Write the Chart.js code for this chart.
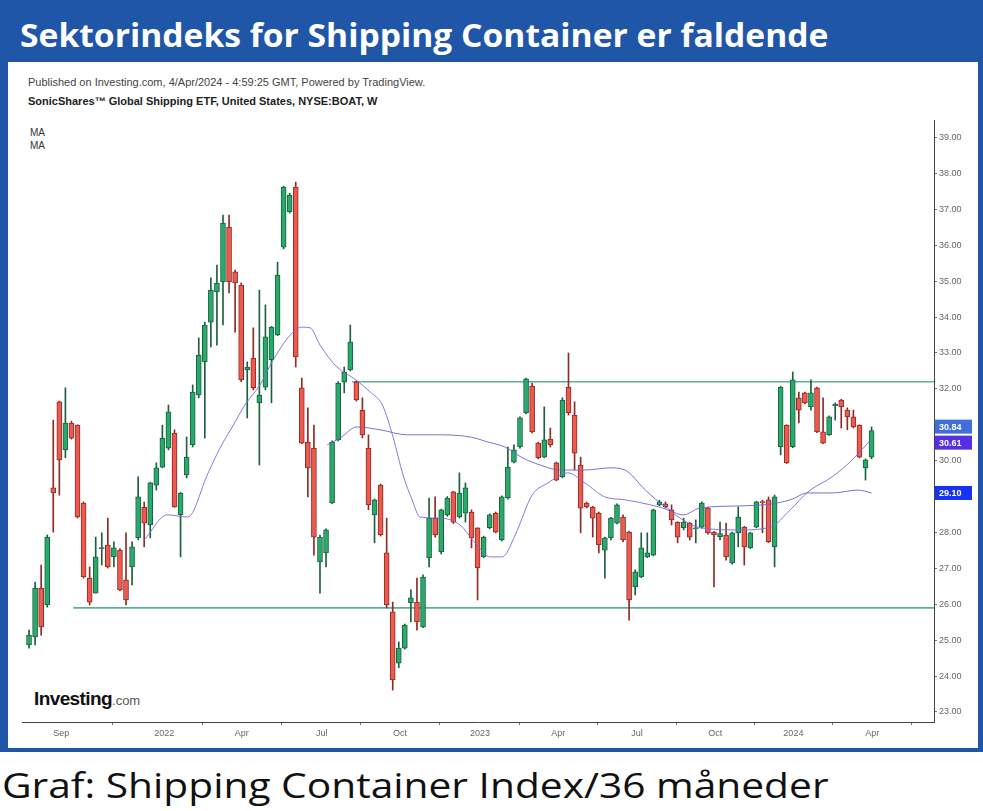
<!DOCTYPE html>
<html lang="da">
<head>
<meta charset="utf-8">
<title>Sektorindeks for Shipping Container er faldende</title>
<script src="https://cdn.jsdelivr.net/npm/chart.js@4.4.1/dist/chart.umd.min.js"></script>
<style>
  html, body { margin: 0; padding: 0; background: #fff; }
  body { width: 983px; height: 811px; position: relative; overflow: hidden; font-family: "Liberation Sans", Arial, sans-serif; }
  #frame { position: absolute; left: 0; top: 0; width: 983px; height: 752px; background: #1f56a7; }
  #title { position: absolute; left: 20px; top: 15px; color: #fff; font-family: "Open Sans", sans-serif; font-weight: 700; font-size: 33px; line-height: 40px; white-space: nowrap; transform-origin: left top; }
  #panel { position: absolute; left: 8px; top: 62px; width: 970px; height: 686px; background: #fff; }
  .info { position: absolute; left: 28px; font-size: 11px; white-space: nowrap; }
  #pub { top: 76px; color: #444; }
  #sym { top: 95px; color: #222; font-weight: bold; }
  .ma { position: absolute; left: 30px; font-size: 10px; color: #333; }
  #logo { position: absolute; left: 34px; top: 688px; white-space: nowrap; }
  #logo b { font-size: 19px; letter-spacing: -0.6px; color: #111; }
  #logo span { font-size: 13px; color: #555; }
  #chart { position: absolute; left: 0; top: 0; }
  #caption { position: absolute; left: 2px; top: 762px; font-family: "Open Sans", sans-serif; font-size: 34px; line-height: 46px; color: #111; white-space: nowrap; transform-origin: left top; }
</style>
</head>
<body>
<div id="frame"></div>
<div id="title">Sektorindeks for Shipping Container er faldende</div>
<div id="panel"></div>
<div class="info" id="pub">Published on Investing.com, 4/Apr/2024 - 4:59:25 GMT, Powered by TradingView.</div>
<div class="info" id="sym">SonicShares™ Global Shipping ETF, United States, NYSE:BOAT, W</div>
<div class="ma" style="top:127px">MA</div>
<div class="ma" style="top:140px">MA</div>
<div id="logo"><b>Investing</b><span>.com</span></div>
<canvas id="chart" width="983" height="752"></canvas>
<div id="caption">Graf: Shipping Container Index/36 måneder</div>

<script>
// Ugentlige candles (BOAT)
const opens = [
  24.87, 25.09, 26.45, 25.98, 29.24, 31.64, 30.30, 31.05, 30.99, 28.82,
  26.73, 26.31, 27.55, 27.65, 27.32, 27.51, 26.68, 27.04, 27.85, 28.71,
  28.21, 29.32, 29.82, 30.35, 30.77, 28.49, 29.60, 30.44, 31.83, 32.75,
  33.86, 34.70, 34.98, 36.51, 35.26, 34.89, 32.53, 32.86, 31.61, 32.05,
  32.81, 33.50, 35.95, 36.93, 37.62, 32.03, 30.52, 30.35, 27.18, 27.43,
  28.82, 30.58, 32.19, 32.53, 32.19, 31.41, 30.35, 28.49, 29.32, 27.43,
  25.79, 24.36, 24.78, 26.04, 26.06, 25.37, 27.29, 28.40, 27.46, 28.49,
  29.13, 28.43, 28.54, 28.57, 28.13, 27.32, 28.13, 28.54, 27.79, 28.96,
  29.96, 30.38, 31.33, 32.08, 30.49, 30.10, 30.60, 29.94, 29.55, 32.05,
  31.27, 29.88, 28.82, 28.71, 28.54, 27.51, 27.85, 28.26, 28.43, 28.01,
  26.48, 26.76, 27.32, 27.37, 28.77, 28.80, 28.63, 28.29, 28.13, 28.26,
  28.10, 28.15, 28.68, 28.01, 27.88, 27.93, 27.15, 27.99, 28.15, 27.57,
  28.15, 28.85, 28.91, 27.60, 30.38, 30.99, 30.38, 31.75, 31.89, 31.50,
  32.03, 30.80, 30.72, 31.53, 31.69, 31.41, 31.22, 30.99, 29.80, 30.10
];
const highs = [
  25.28, 26.62, 27.09, 27.93, 31.13, 31.66, 32.03, 31.10, 31.00, 28.85,
  27.04, 27.87, 27.99, 28.40, 27.74, 27.55, 27.99, 27.74, 29.55, 28.85,
  29.40, 29.94, 30.99, 31.55, 30.86, 29.12, 30.66, 32.11, 33.42, 33.86,
  35.09, 35.45, 36.84, 36.84, 35.31, 34.95, 32.75, 33.70, 34.75, 34.34,
  33.74, 35.53, 37.65, 37.45, 37.76, 32.30, 31.47, 30.99, 27.93, 28.10,
  30.55, 32.20, 32.61, 33.78, 32.22, 31.75, 30.72, 28.93, 29.35, 28.40,
  26.06, 24.95, 25.45, 26.40, 26.73, 26.82, 28.96, 28.99, 28.65, 29.00,
  29.15, 29.66, 29.38, 28.63, 28.13, 27.90, 28.52, 28.57, 29.02, 30.38,
  30.44, 31.22, 32.30, 32.16, 30.52, 31.50, 30.91, 29.96, 31.75, 33.00,
  31.64, 30.10, 28.85, 28.73, 28.57, 27.87, 28.42, 28.80, 28.49, 28.04,
  26.96, 27.99, 27.99, 28.65, 28.90, 28.85, 28.77, 28.30, 28.40, 28.28,
  28.35, 28.85, 28.70, 28.03, 28.29, 28.26, 28.01, 28.71, 28.17, 28.01,
  28.87, 28.90, 28.99, 29.04, 32.07, 31.00, 32.47, 31.91, 31.91, 32.25,
  32.05, 31.75, 31.25, 31.61, 31.71, 31.47, 31.41, 31.00, 30.05, 30.94
];
const lows = [
  24.78, 24.87, 25.14, 25.92, 28.01, 29.04, 30.08, 30.60, 28.40, 26.73,
  25.98, 26.31, 27.09, 27.01, 27.04, 26.38, 25.98, 26.54, 27.79, 27.60,
  27.85, 29.18, 29.80, 30.30, 28.70, 27.32, 29.52, 30.38, 31.75, 30.63,
  33.17, 33.22, 33.78, 34.67, 33.58, 32.20, 31.19, 31.97, 29.88, 31.97,
  31.61, 33.48, 35.90, 36.90, 32.61, 30.47, 28.99, 27.37, 26.31, 27.04,
  28.80, 30.55, 31.89, 32.50, 31.66, 30.63, 28.63, 27.71, 27.90, 25.90,
  23.61, 24.23, 24.75, 25.51, 25.28, 25.35, 27.04, 27.87, 27.40, 28.45,
  28.25, 28.40, 28.29, 27.57, 26.12, 27.30, 28.10, 27.99, 27.76, 28.93,
  29.94, 30.35, 31.30, 30.77, 30.05, 30.08, 30.38, 29.44, 29.52, 31.27,
  29.74, 27.99, 28.68, 27.87, 27.43, 26.73, 27.79, 28.24, 27.74, 25.56,
  26.26, 26.74, 27.30, 27.35, 28.74, 28.68, 28.21, 27.71, 28.07, 27.79,
  27.71, 28.12, 27.95, 26.48, 27.79, 27.23, 27.12, 27.60, 27.09, 27.55,
  28.13, 27.99, 27.72, 27.04, 30.16, 29.92, 30.36, 31.05, 31.58, 31.41,
  30.78, 30.47, 30.70, 31.13, 30.91, 30.86, 30.91, 30.08, 29.46, 30.05
];
const closes = [
  25.14, 26.45, 25.37, 27.87, 29.10, 30.02, 31.05, 30.63, 28.43, 26.76,
  26.06, 27.32, 27.58, 27.04, 27.57, 26.40, 26.12, 27.60, 28.99, 28.26,
  29.38, 29.80, 30.63, 31.36, 28.71, 29.10, 30.10, 31.91, 32.94, 33.78,
  34.75, 34.95, 36.62, 34.98, 34.95, 32.25, 32.61, 32.03, 31.83, 33.45,
  33.72, 35.17, 37.62, 37.40, 32.89, 30.49, 29.80, 27.87, 27.87, 28.07,
  30.52, 32.16, 32.47, 33.31, 31.69, 30.72, 28.77, 28.91, 27.93, 25.98,
  23.89, 24.78, 25.42, 26.18, 25.51, 26.76, 28.40, 27.93, 28.63, 28.96,
  28.29, 29.10, 29.24, 27.85, 27.01, 27.87, 28.49, 28.01, 28.99, 29.82,
  30.30, 31.19, 32.28, 30.80, 30.08, 30.58, 30.44, 29.46, 31.69, 31.33,
  30.21, 28.68, 28.71, 28.40, 27.65, 27.85, 28.40, 28.77, 27.79, 26.12,
  26.90, 27.57, 27.43, 28.63, 28.85, 28.72, 28.35, 27.87, 28.29, 27.87,
  28.13, 28.82, 27.99, 27.93, 27.97, 27.32, 27.99, 28.43, 27.60, 27.99,
  28.85, 28.83, 27.74, 28.99, 32.05, 29.94, 32.25, 31.41, 31.61, 31.89,
  30.80, 30.49, 31.22, 31.57, 31.50, 31.22, 30.94, 30.10, 30.02, 30.84
];

// Glidende gennemsnit (aflæst, uge-indeks -> værdi)
const maFastWeeks = [19.0, 22.8, 26.2, 29.4, 31.5, 33.7, 35.6, 38.1, 40.1, 43.1, 45.0, 46.4, 48.0, 50.8, 53.5, 56.3, 58.3, 60.1, 61.7, 63.2, 64.5, 67.8, 71.1, 73.6, 76.1, 78.1, 80.2, 83.0, 85.6, 88.9, 91.7, 95.0, 98.3, 102.5, 105.3, 107.9, 110.7, 117.3, 122.3, 125.6, 128.5, 132.5, 135.8, 139];
const maFastValues = [27.79, 28.49, 28.43, 29.60, 30.35, 30.99, 31.55, 32.11, 32.75, 33.50, 33.72, 33.70, 33.22, 32.61, 32.30, 31.91, 31.55, 30.63, 29.60, 28.91, 28.43, 28.40, 28.21, 27.71, 27.32, 27.32, 27.93, 29.04, 29.38, 29.66, 29.38, 28.99, 28.91, 28.77, 28.63, 28.35, 28.13, 28.07, 28.15, 28.63, 29.13, 29.55, 30.02, 30.61];
const maSlowWeeks = [49.2, 51.3, 54.1, 57.9, 62.4, 67.8, 72.8, 75.7, 78.5, 81.4, 84.3, 87.6, 91.7, 95.9, 98.3, 101.7, 105.0, 107.9, 110.7, 117.3, 122.3, 125.6, 128.5, 132.5, 136.8, 139];
const maSlowValues = [30.44, 30.63, 30.94, 30.86, 30.72, 30.72, 30.66, 30.52, 30.38, 30.08, 29.88, 29.74, 29.74, 29.80, 29.74, 29.18, 28.71, 28.49, 28.68, 28.74, 28.79, 28.91, 29.10, 29.10, 29.18, 29.10];

// Vandrette støtte/modstand-linjer
const resistanceLevel = 32.2;
const resistanceFrom = 53.3;
const supportLevel = 25.9;
const supportFrom = 7.3;

// Akser
const yTicks = [23, 24, 25, 26, 27, 28, 29, 30, 32, 33, 34, 35, 36, 37, 38, 39];
const xTickWeeks = [5.3, 22.3, 35.1, 48.3, 61.2, 74.4, 87.3, 100.3, 113.2, 126.1, 139.1];
const xTickLabels = ['Sep', '2022', 'Apr', 'Jul', 'Oct', '2023', 'Apr', 'Jul', 'Oct', '2024', 'Apr'];

// Pris-mærker på højre akse: sidste kurs, MA hurtig, MA langsom
const tagValues = [30.84, 30.61, 29.10];
const tagColors = ['#3f6fdb', '#5530e2', '#1533f0'];

const upColor = '#27ab6b', upBorder = '#1d5f40';
const downColor = '#ee5a4e', downBorder = '#8e2b24';

function fitWidth(id, w) {
    const el = document.getElementById(id);
    el.style.transform = 'scaleX(' + (w / el.scrollWidth) + ')';
}
fitWidth('title', 808);
fitWidth('caption', 826);

const bodies = [], wicks = [], bodyFill = [], bodyEdge = [];
opens.forEach(function(o, i) {
    const up = closes[i] >= o;
    bodies.push({ x: i, y: [o, closes[i]] });
    wicks.push({ x: i, y: [lows[i], highs[i]] });
    bodyFill.push(up ? upColor : downColor);
    bodyEdge.push(up ? upBorder : downBorder);
});

const priceTags = {
    id: 'priceTags',
    afterDraw: function(chart) {
        const ctx = chart.ctx, ys = chart.scales.y, right = chart.chartArea.right;
        const h = 14;
        const tags = tagValues.map(function(v, i) {
            return { v: v, c: tagColors[i], py: ys.getPixelForValue(v) };
        }).sort(function(a, b) { return a.py - b.py; });
        for (let i = 1; i < tags.length; i++) {
            if (tags[i].py - tags[i - 1].py < h + 2) {
                const mid = (tags[i].py + tags[i - 1].py) / 2;
                tags[i - 1].py = mid - (h + 2) / 2;
                tags[i].py = mid + (h + 2) / 2;
            }
        }
        ctx.save();
        ctx.font = 'bold 9px "Liberation Sans", Arial, sans-serif';
        ctx.textBaseline = 'middle';
        tags.forEach(function(t) {
            ctx.fillStyle = t.c;
            ctx.fillRect(right + 1, t.py - h / 2, 37, h);
            ctx.fillStyle = '#fff';
            ctx.fillText(t.v.toFixed(2), right + 5, t.py + 0.5);
        });
        ctx.restore();
    }
};

const lastWeek = 149.3;

new Chart(document.getElementById('chart'), {
    type: 'bar',
    data: {
        datasets: [
            {
                type: 'line',
                data: [{ x: resistanceFrom, y: resistanceLevel }, { x: lastWeek, y: resistanceLevel }],
                borderColor: '#5eae9c', borderWidth: 1.6, pointRadius: 0, order: 5
            },
            {
                type: 'line',
                data: [{ x: supportFrom, y: supportLevel }, { x: lastWeek, y: supportLevel }],
                borderColor: '#5eae9c', borderWidth: 1.6, pointRadius: 0, order: 5
            },
            {
                label: 'wick',
                data: wicks,
                backgroundColor: bodyEdge,
                barThickness: 1,
                grouped: false,
                order: 4
            },
            {
                label: 'body',
                data: bodies,
                backgroundColor: bodyFill,
                borderColor: bodyEdge,
                borderWidth: 1,
                borderSkipped: false,
                barThickness: 5,
                minBarLength: 1,
                grouped: false,
                order: 3
            },
            {
                type: 'line',
                label: 'MA',
                data: maFastWeeks.map(function(w, i) { return { x: w, y: maFastValues[i] }; }),
                borderColor: 'rgba(125, 105, 215, 0.9)', borderWidth: 1,
                pointRadius: 0, cubicInterpolationMode: 'monotone', order: 1
            },
            {
                type: 'line',
                label: 'MA',
                data: maSlowWeeks.map(function(w, i) { return { x: w, y: maSlowValues[i] }; }),
                borderColor: 'rgba(110, 95, 210, 0.9)', borderWidth: 1,
                pointRadius: 0, cubicInterpolationMode: 'monotone', order: 2
            }
        ]
    },
    options: {
        responsive: false,
        animation: false,
        layout: { padding: { left: 22, top: 120, right: 0, bottom: 0 } },
        scales: {
            x: {
                type: 'linear',
                min: -1.16,
                max: lastWeek,
                offset: false,
                afterBuildTicks: function(scale) {
                    scale.ticks = xTickWeeks.map(function(v) { return { value: v }; });
                },
                afterFit: function(scale) { scale.height = 30; },
                grid: { display: true, drawOnChartArea: false, drawTicks: true, tickLength: 3, color: '#777' },
                border: { display: true, color: '#444', width: 1 },
                ticks: {
                    autoSkip: false, maxRotation: 0, padding: 3,
                    color: '#666', font: { family: '"Liberation Sans", Arial, sans-serif', size: 9 },
                    callback: function(value, index) { return xTickLabels[index]; }
                }
            },
            y: {
                position: 'right',
                min: 22.72,
                max: 39.49,
                afterBuildTicks: function(scale) {
                    scale.ticks = yTicks.map(function(v) { return { value: v }; });
                },
                afterFit: function(scale) { scale.width = 49; },
                grid: { display: true, drawOnChartArea: false, drawTicks: true, tickLength: 3, color: '#777' },
                border: { display: true, color: '#444', width: 1 },
                ticks: {
                    padding: 2,
                    color: '#666', font: { family: '"Liberation Sans", Arial, sans-serif', size: 9 },
                    callback: function(value) { return Number(value).toFixed(2); }
                }
            }
        },
        plugins: {
            legend: { display: false },
            tooltip: { enabled: false }
        }
    },
    plugins: [priceTags]
});
</script>
</body>
</html>
